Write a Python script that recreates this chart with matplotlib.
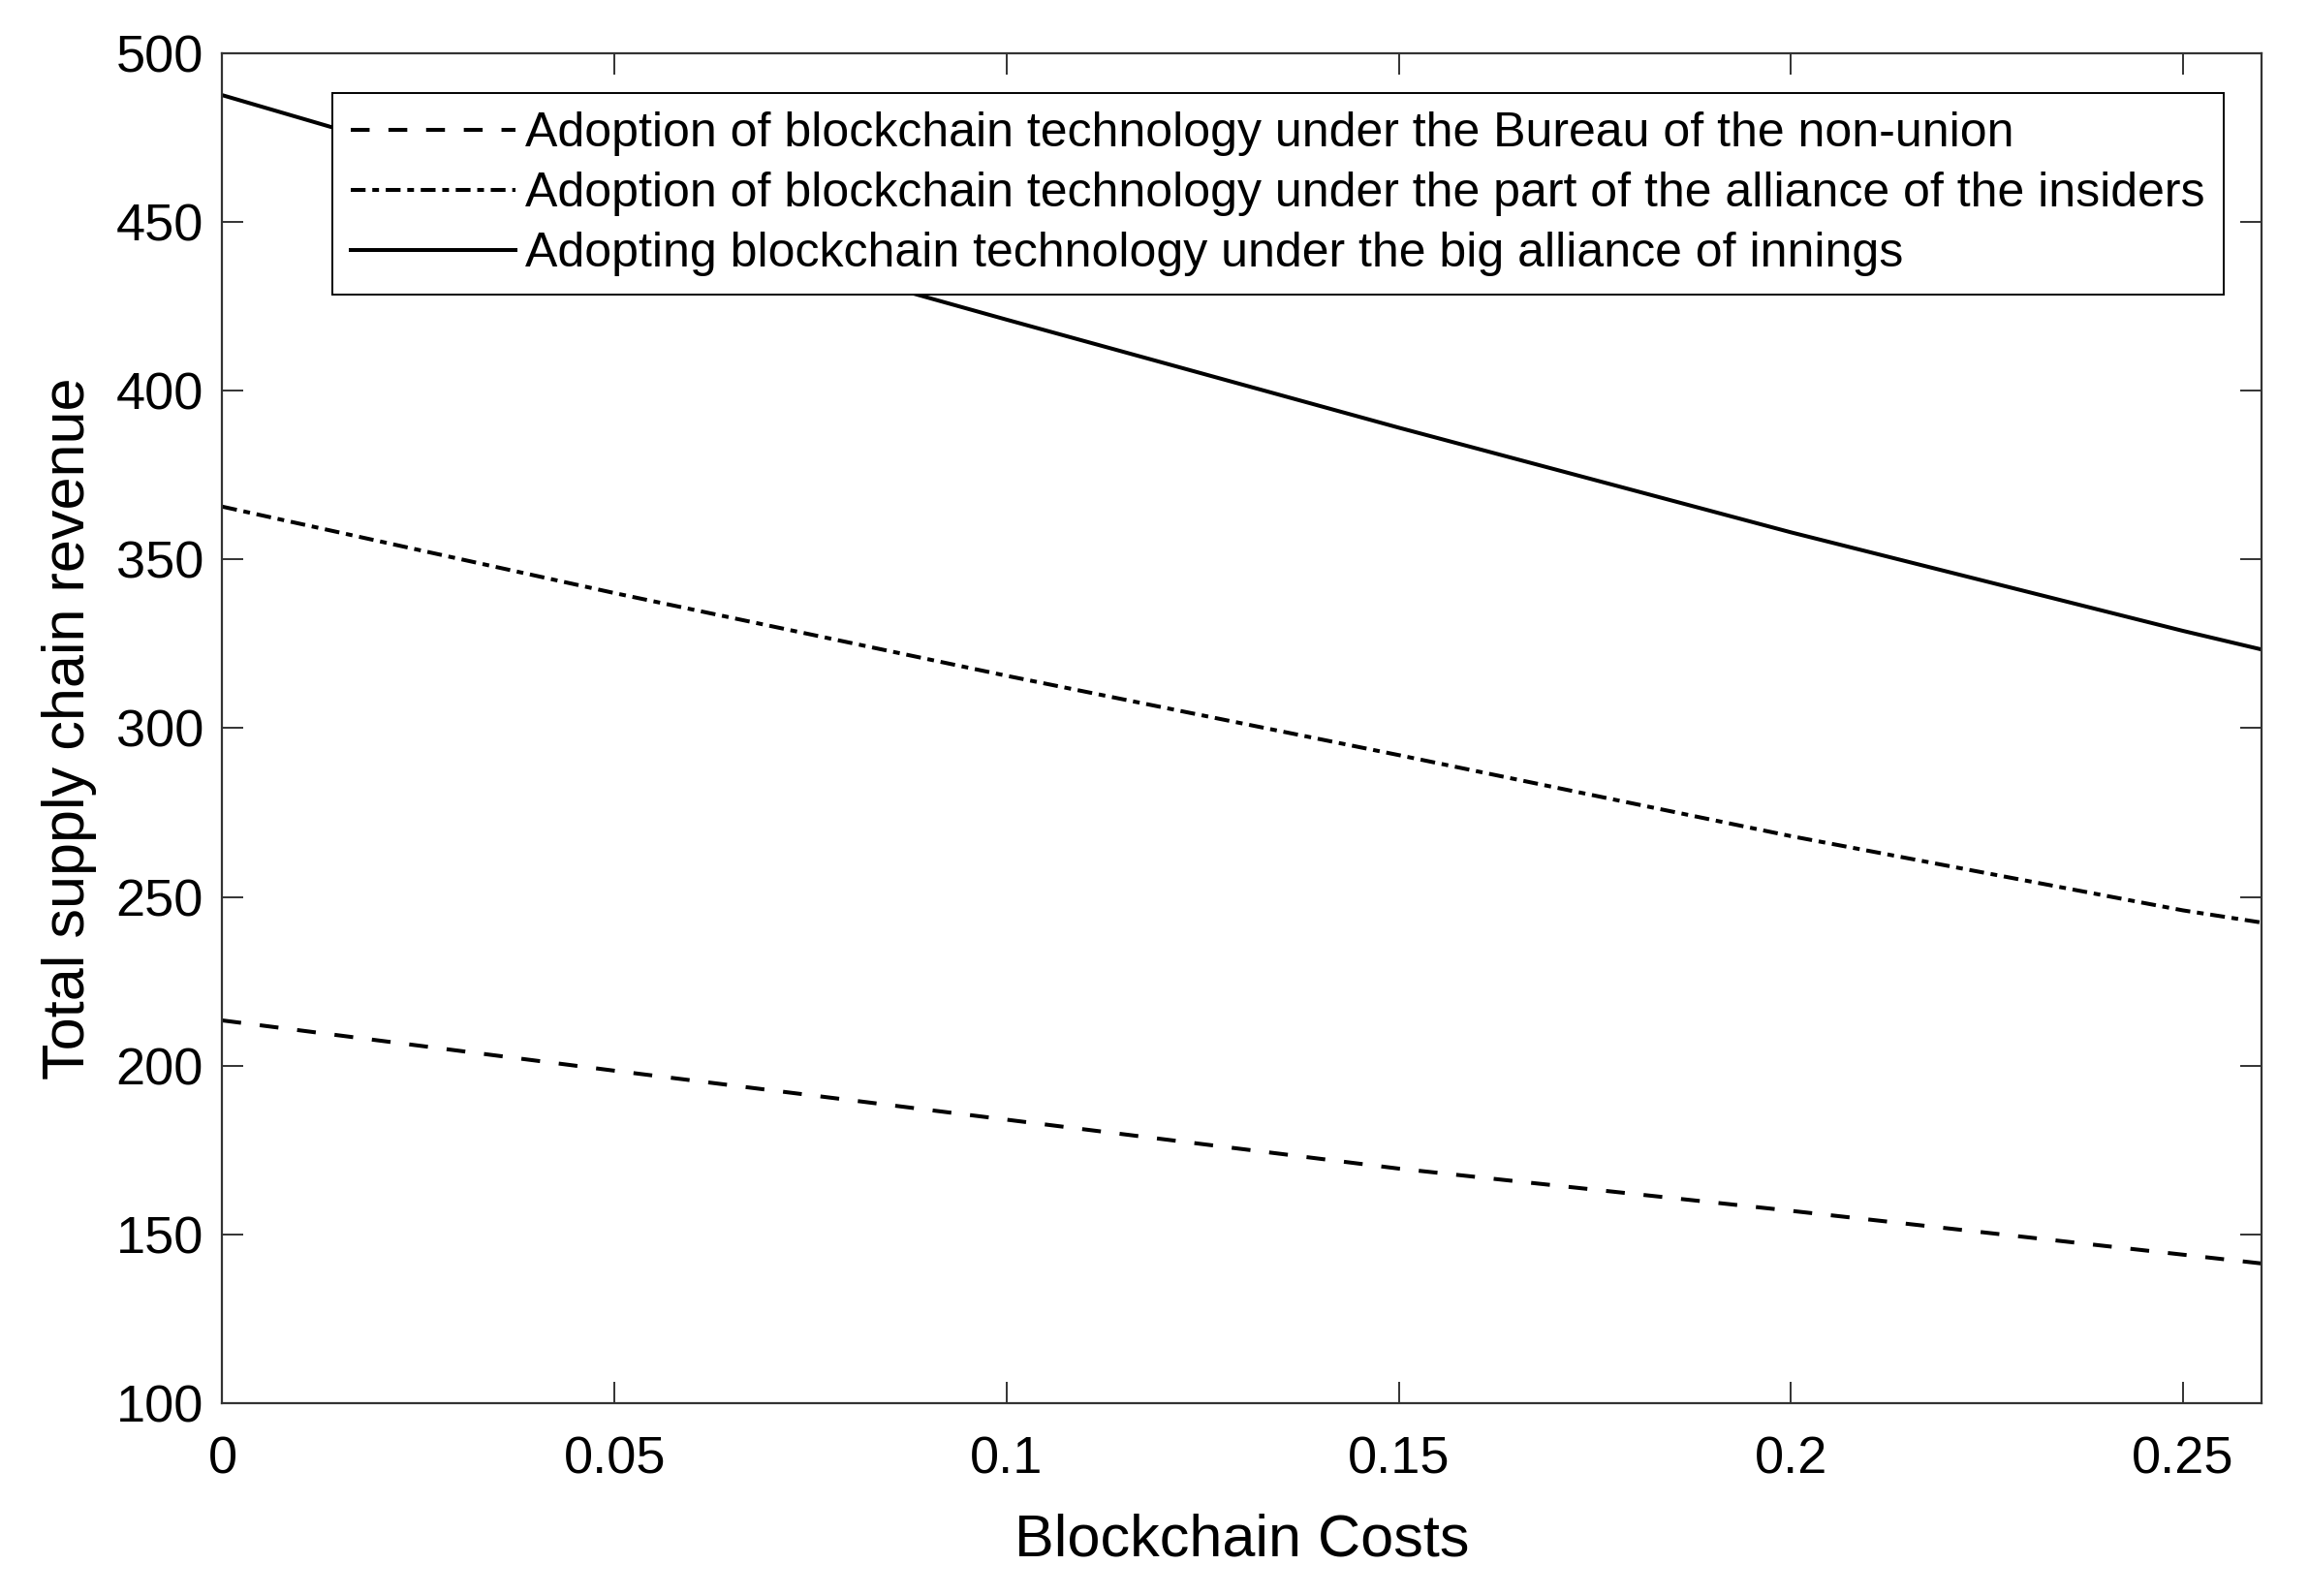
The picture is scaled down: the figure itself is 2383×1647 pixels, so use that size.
import matplotlib as mpl
import matplotlib.pyplot as plt

mpl.rcParams['font.family'] = ['Liberation Sans', 'DejaVu Sans']
mpl.rcParams['lines.scale_dashes'] = False

# blockchain cost values
costs = [0, 0.05, 0.1, 0.15, 0.2, 0.25, 0.26]
non_union = [213.4, 198.5, 184.0, 169.5, 157.0, 144.0, 141.4]
partial_alliance = [365.6, 340.0, 315.5, 292.0, 268.0, 246.0, 242.4]
grand_alliance = [487.5, 453.5, 421.0, 389.0, 358.0, 328.8, 323.3]

labels = ['Adoption of blockchain technology under the Bureau of the non-union',
          'Adoption of blockchain technology under the part of the alliance of the insiders',
          'Adopting blockchain technology under the big alliance of innings']

fig = plt.figure(figsize=(23.83, 16.47), dpi=100)
ax = fig.add_axes([0.0963, 0.1208, 0.8831, 0.8460])

ax.plot(costs, non_union, color='black', linewidth=2.9, linestyle=(0, (14, 14)), label=labels[0])
ax.plot(costs, partial_alliance, color='black', linewidth=2.9, linestyle=(0, (11, 5, 5, 5)), label=labels[1])
ax.plot(costs, grand_alliance, color='black', linewidth=2.9, label=labels[2])

ax.set_xlim(0, 0.26)
ax.set_ylim(100, 500)
ax.set_xticks([0, 0.05, 0.1, 0.15, 0.2, 0.25])
ax.set_xticklabels(['0', '0.05', '0.1', '0.15', '0.2', '0.25'])
ax.set_yticks(range(100, 501, 50))

ax.tick_params(direction='in', length=16, width=1.4, color='#333333',
               top=True, right=True, labelsize=39)
ax.tick_params(axis='x', pad=24)
ax.tick_params(axis='y', pad=14)
for sp in ax.spines.values():
    sp.set_color('#333333')
    sp.set_linewidth(1.6)

ax.set_xlabel('Blockchain Costs', fontsize=44, labelpad=22)
ax.set_ylabel('Total supply chain revenue', fontsize=44, labelpad=14)

leg = ax.legend(loc='upper left', bbox_to_anchor=(343 / 2383, 1 - 96 / 1647),
                bbox_transform=fig.transFigure, fontsize=36, frameon=True,
                fancybox=False, framealpha=1, edgecolor='black',
                handlelength=3.4, handletextpad=0.2, borderpad=0.38,
                labelspacing=0.32, borderaxespad=0)
leg.get_frame().set_linewidth(1.4)

fig.savefig('out.png', dpi=100)
